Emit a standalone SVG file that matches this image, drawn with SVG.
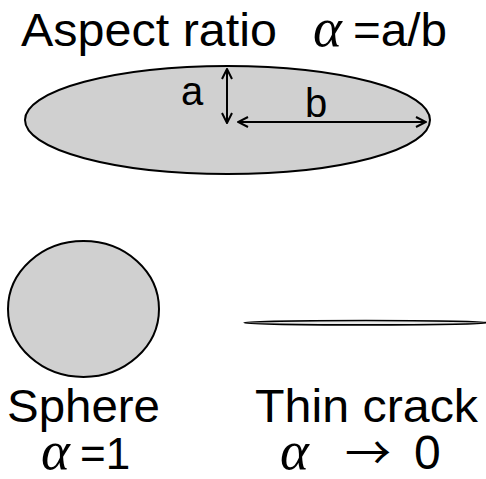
<svg xmlns="http://www.w3.org/2000/svg" width="486" height="479" viewBox="0 0 486 479">
<defs>
<marker id="ah" viewBox="0 0 12 12" refX="11" refY="6" markerWidth="12" markerHeight="12" markerUnits="userSpaceOnUse" orient="auto-start-reverse">
<polyline points="1,1 11,6 1,11" fill="none" stroke="#000" stroke-width="2"/>
</marker>
</defs>
<style>
.t{font-family:"Liberation Sans",Arial,sans-serif;fill:#000}
.g{font-family:"Liberation Serif","Times New Roman",serif;font-style:italic;fill:#000}
.shape{fill:#d0d0d0;stroke:#000;stroke-width:2}
.dim{stroke:#000;stroke-width:2;fill:none}
</style>
<rect width="486" height="479" fill="#fff"/>
<g id="title">
<text class="t" x="21" y="46" font-size="47" textLength="256" lengthAdjust="spacingAndGlyphs">Aspect ratio</text>
<text class="g" x="313" y="46" font-size="55">α</text>
<text class="t" x="353" y="46" font-size="46" textLength="94" lengthAdjust="spacingAndGlyphs">=a/b</text>
</g>
<g id="ellipse">
<ellipse class="shape" cx="227.5" cy="120" rx="202.5" ry="54"/>
<text class="t" x="181" y="105" font-size="40">a</text>
<text class="t" x="305" y="117" font-size="40">b</text>
</g>
<g id="sphere">
<ellipse class="shape" cx="83.5" cy="309" rx="75.5" ry="68"/>
<text class="t" x="7" y="422" font-size="46" textLength="153" lengthAdjust="spacingAndGlyphs">Sphere</text>
<text class="g" x="41" y="469" font-size="55">α</text>
<text class="t" x="80" y="469" font-size="44">=1</text>
</g>
<g id="crack">
<ellipse cx="366" cy="322.7" rx="122" ry="2.2" fill="#e8e8e8" stroke="#000" stroke-width="1.6"/>
<text class="t" x="255" y="422" font-size="46" textLength="223" lengthAdjust="spacingAndGlyphs">Thin crack</text>
<text class="g" x="280" y="469" font-size="55">α</text>
<text x="345" y="469" font-size="46" font-family="'Noto Sans CJK JP',sans-serif" fill="#000">→</text>
<text class="t" x="414" y="469" font-size="48">0</text>
</g>
<g id="connectors">
<line class="dim" x1="227" y1="69" x2="227" y2="123" marker-start="url(#ah)" marker-end="url(#ah)"/>
<line class="dim" x1="238" y1="122" x2="426" y2="122" marker-start="url(#ah)" marker-end="url(#ah)"/>
</g>
</svg>
